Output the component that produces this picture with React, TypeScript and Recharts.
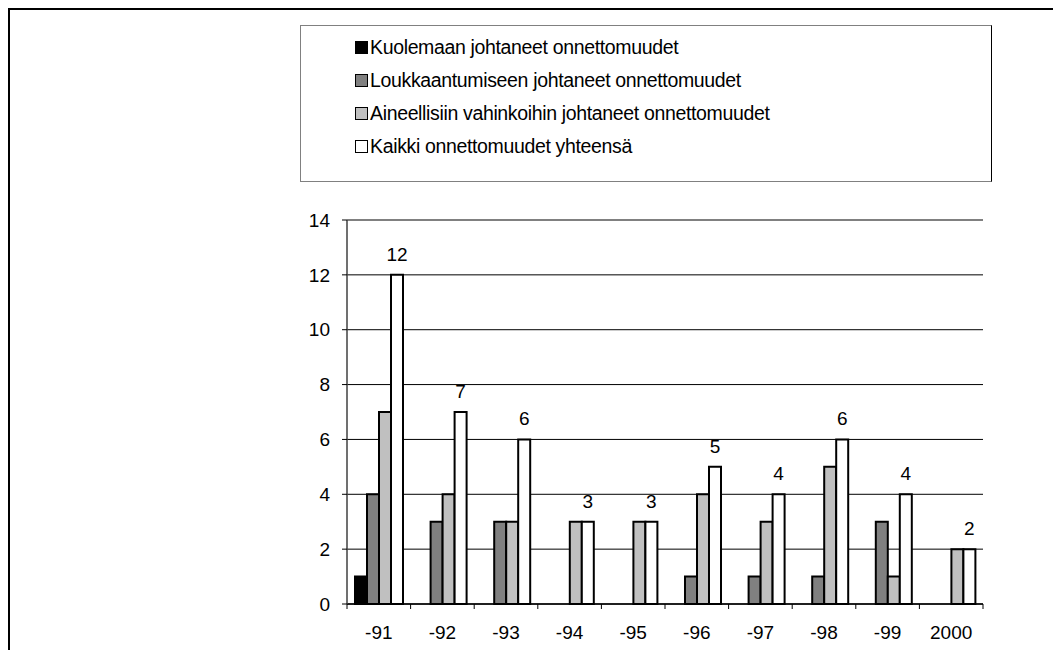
import React from 'react';
import { BarChart, Bar, XAxis, YAxis, CartesianGrid, LabelList, ReferenceLine } from 'recharts';

const years = ['-91', '-92', '-93', '-94', '-95', '-96', '-97', '-98', '-99', '2000'];
const kuolemaan = [1, 0, 0, 0, 0, 0, 0, 0, 0, 0];
const loukkaantumiseen = [4, 3, 3, 0, 0, 1, 1, 1, 3, 0];
const aineellisiin = [7, 4, 3, 3, 3, 4, 3, 5, 1, 2];
const kaikki = [12, 7, 6, 3, 3, 5, 4, 6, 4, 2];
const yTicks = [0, 2, 4, 6, 8, 10, 12, 14];

const series = [
  { key: 'kuolemaan', name: 'Kuolemaan johtaneet onnettomuudet', color: '#000000' },
  { key: 'loukkaantumiseen', name: 'Loukkaantumiseen johtaneet onnettomuudet', color: '#808080' },
  { key: 'aineellisiin', name: 'Aineellisiin vahinkoihin johtaneet onnettomuudet', color: '#C0C0C0' },
  { key: 'kaikki', name: 'Kaikki onnettomuudet yhteensä', color: '#FFFFFF' },
];

const data = years.map((year, i) => ({
  year,
  kuolemaan: kuolemaan[i],
  loukkaantumiseen: loukkaantumiseen[i],
  aineellisiin: aineellisiin[i],
  kaikki: kaikki[i],
}));

const W = 1053;
const H = 650;
const margin = { top: 220, right: 70, bottom: 6, left: 300 };
const Y_AXIS_W = 47;
const X_AXIS_H = 40;
const PLOT_W = W - margin.left - margin.right - Y_AXIS_W;
const BAND = PLOT_W / years.length;
const FONT = '"Liberation Sans", Arial, sans-serif';

// x labels sit in the middle of each category, tick marks go between them
function YearTick(props: any) {
  const { x, y, payload, index } = props;
  const axisY = y - 5;
  const half = BAND / 2;
  return (
    <g>
      <line x1={x - half} x2={x - half} y1={axisY} y2={axisY + 5} stroke="#000" />
      {index === years.length - 1 && (
        <line x1={x + half} x2={x + half} y1={axisY} y2={axisY + 5} stroke="#000" />
      )}
      <text x={x} y={y + 17} dy="0.71em" textAnchor="middle" fontSize={19} fill="#000" fontFamily={FONT}>
        {payload.value}
      </text>
    </g>
  );
}

function ChartLegend() {
  return (
    <div
      style={{
        position: 'absolute',
        left: 300,
        top: 25,
        width: 690,
        height: 150,
        border: '1px solid #808080',
        borderRight: '1px solid #000',
        boxSizing: 'content-box',
        paddingTop: 5,
        fontFamily: FONT,
        fontSize: 19.5,
        letterSpacing: -0.35,
        color: '#000',
      }}
    >
      {series.map((s) => (
        <div key={s.key} style={{ height: 33, display: 'flex', alignItems: 'center', paddingLeft: 54 }}>
          <span
            style={{
              display: 'inline-block',
              width: 11,
              height: 11,
              background: s.color,
              border: '1px solid #000',
              marginRight: 2,
            }}
          />
          <span>{s.name}</span>
        </div>
      ))}
    </div>
  );
}

export default function App() {
  return (
    <div style={{ position: 'fixed', left: 0, top: 0, width: W, height: H, overflow: 'hidden', background: '#fff' }}>
      <div
        style={{
          position: 'absolute',
          left: 8,
          top: 8,
          width: 2000,
          height: 2000,
          borderLeft: '2px solid #000',
          borderTop: '2px solid #000',
        }}
      />
      <div style={{ position: 'absolute', left: 0, top: 0 }}>
        <BarChart width={W} height={H} data={data} margin={margin} barCategoryGap={8} barGap={0}>
          <CartesianGrid vertical={false} stroke="#000" strokeWidth={1} />
          <ReferenceLine y={14} stroke="#808080" strokeWidth={2} />
          <XAxis
            dataKey="year"
            interval={0}
            height={X_AXIS_H}
            tickLine={false}
            tickSize={5}
            tickMargin={0}
            axisLine={{ stroke: '#000', strokeWidth: 1.5 }}
            tick={<YearTick />}
          />
          <YAxis
            domain={[0, 14]}
            ticks={yTicks}
            width={Y_AXIS_W}
            tickSize={5}
            tickMargin={12}
            axisLine={{ stroke: '#404040', strokeWidth: 1.5 }}
            tickLine={{ stroke: '#000' }}
            tick={{ fill: '#000', fontSize: 19, fontFamily: FONT }}
          />
          <YAxis
            yAxisId="r"
            orientation="right"
            domain={[0, 14]}
            width={0}
            tick={false}
            tickLine={false}
            axisLine={{ stroke: '#808080', strokeWidth: 2 }}
          />
          {series.map((s) => (
            <Bar
              key={s.key}
              dataKey={s.key}
              name={s.name}
              fill={s.color}
              stroke="#000"
              strokeWidth={2}
              isAnimationActive={false}
            >
              {s.key === 'kaikki' && (
                <LabelList dataKey="kaikki" position="top" offset={14} fontSize={19} fill="#000" fontFamily={FONT} />
              )}
            </Bar>
          ))}
        </BarChart>
      </div>
      <ChartLegend />
    </div>
  );
}
